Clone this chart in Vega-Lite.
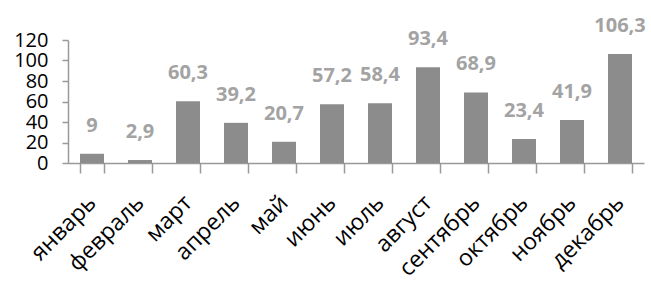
{
  "$schema": "https://vega.github.io/schema/vega-lite/v6.json",
  "width": 576,
  "height": 123,
  "autosize": "none",
  "padding": {"left": 68, "top": 40, "right": 7, "bottom": 118},
  "background": "white",
  "data": {"values": [
    {"month": "январь", "value": 9, "label": "9"},
    {"month": "февраль", "value": 2.9, "label": "2,9"},
    {"month": "март", "value": 60.3, "label": "60,3"},
    {"month": "апрель", "value": 39.2, "label": "39,2"},
    {"month": "май", "value": 20.7, "label": "20,7"},
    {"month": "июнь", "value": 57.2, "label": "57,2"},
    {"month": "июль", "value": 58.4, "label": "58,4"},
    {"month": "август", "value": 93.4, "label": "93,4"},
    {"month": "сентябрь", "value": 68.9, "label": "68,9"},
    {"month": "октябрь", "value": 23.4, "label": "23,4"},
    {"month": "ноябрь", "value": 41.9, "label": "41,9"},
    {"month": "декабрь", "value": 106.3, "label": "106,3"}
  ]},
  "encoding": {
    "x": {"field": "month", "type": "nominal", "sort": null,
      "scale": {"paddingInner": 0.5, "paddingOuter": 0.25},
      "axis": {"title": null, "labelAngle": -45, "labelAlign": "right", "labelBaseline": "middle",
        "labelFontSize": 23, "labelFont": "Open Sans", "labelColor": "#000", "labelPadding": 26,
        "tickBand": "extent", "tickSize": 10, "tickColor": "#999", "domainColor": "#999", "tickWidth": 1.5, "domainWidth": 1.5, "labelOverlap": false, "labelBound": false, "grid": false}},
    "y": {"field": "value", "type": "quantitative",
      "scale": {"domain": [0, 120], "nice": false},
      "axis": {"title": null, "values": [0, 20, 40, 60, 80, 100, 120], "labelFontSize": 20, "labelFont": "Open Sans",
        "labelColor": "#000", "labelPadding": 14, "tickSize": 6, "tickColor": "#999", "domainColor": "#999",
        "tickWidth": 1.5, "domainWidth": 1.5, "grid": false, "labelOverlap": false, "labelBound": false, "labelFlush": false}}
  },
  "layer": [
    {"mark": {"type": "bar", "color": "#8c8c8c"}},
    {"mark": {"type": "text", "baseline": "bottom", "dy": -18, "font": "Open Sans", "fontSize": 20, "fontWeight": "bold", "color": "#a3a3a3"},
     "encoding": {"text": {"field": "label"}}}
  ],
  "config": {"view": {"stroke": null}}
}
